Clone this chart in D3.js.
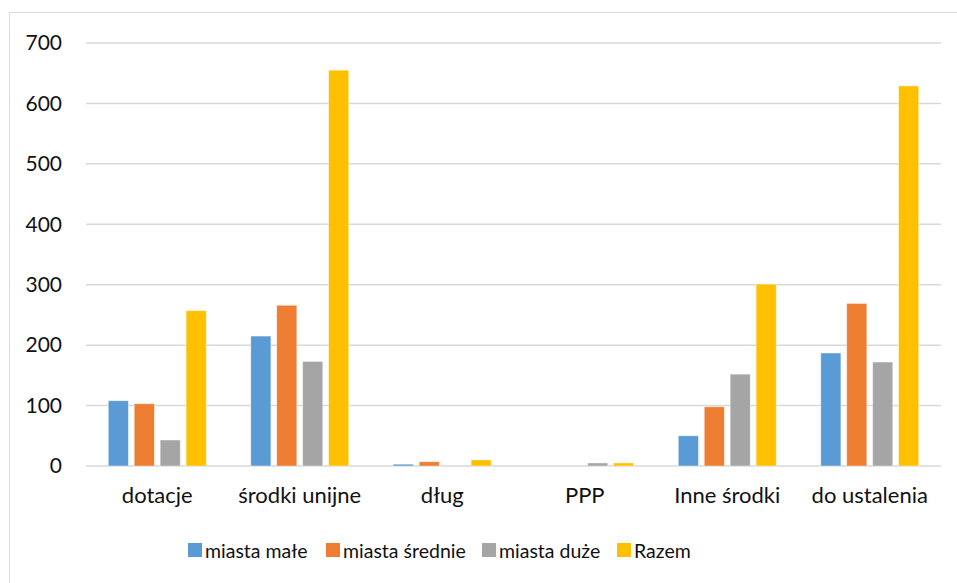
<!DOCTYPE html>
<html>
<head>
<meta charset="utf-8">
<script src="https://cdn.jsdelivr.net/npm/d3@7"></script>
<style>
  body { margin: 0; background: #fff; }
  svg { display: block; }
  text { font-family: Lato, "Open Sans", sans-serif; fill: #111; }
</style>
</head>
<body>
<div id="chart"></div>
<script>
// data
const categories = ["dotacje", "środki unijne", "dług", "PPP", "Inne środki", "do ustalenia"];
const seriesNames = ["miasta małe", "miasta średnie", "miasta duże", "Razem"];
const miastaMale    = [108, 215, 3, 0, 50, 187];
const miastaSrednie = [103, 266, 7, 0, 98, 269];
const miastaDuze    = [43, 173, 0, 5, 152, 172];
const razem         = [257, 655, 10, 5, 301, 629];
const yTicks = [0, 100, 200, 300, 400, 500, 600, 700];
const colors = ["#5B9BD5", "#ED7D31", "#A5A5A5", "#FFC000"];

const seriesValues = [miastaMale, miastaSrednie, miastaDuze, razem];
const width = 957, height = 583;

const svg = d3.select("#chart").append("svg")
    .attr("width", width)
    .attr("height", height);

// chart frame
svg.append("rect")
    .attr("x", 9.5).attr("y", 12.5)
    .attr("width", 965).attr("height", 585)
    .attr("fill", "#fff")
    .attr("stroke", "#d9d9d9");

const x0 = d3.scaleBand()
    .domain(categories)
    .range([86, 941])
    .paddingInner(0.272)
    .paddingOuter(0.136);

const x1 = d3.scaleBand()
    .domain(seriesNames)
    .range([0, x0.bandwidth()])
    .paddingInner(0.225)
    .paddingOuter(0.1125);

const y = d3.scaleLinear()
    .domain([0, 700])
    .range([466, 43]);

// gridlines
svg.append("g")
    .selectAll("line")
    .data(yTicks)
    .join("line")
    .attr("x1", 86).attr("x2", 941)
    .attr("y1", d => y(d)).attr("y2", d => y(d))
    .attr("stroke", "#d9d9d9")
    .attr("stroke-width", 1.5);

// y axis labels
const yAxis = svg.append("g")
    .attr("transform", "translate(86,0)")
    .call(d3.axisLeft(y).tickValues(yTicks).tickSize(0).tickPadding(24));
yAxis.select(".domain").remove();
yAxis.selectAll("text")
    .style("font-family", "Lato, 'Open Sans', sans-serif")
    .attr("font-size", 21)
    .attr("fill", "#111");

// bars
const rows = categories.map((c, i) => ({cat: c, vals: seriesNames.map((s, j) => ({s, v: seriesValues[j][i], j}))}));

svg.append("g")
    .selectAll("g")
    .data(rows)
    .join("g")
    .attr("transform", d => `translate(${x0(d.cat)},0)`)
    .selectAll("rect")
    .data(d => d.vals)
    .join("rect")
    .attr("x", d => x1(d.s))
    .attr("width", x1.bandwidth())
    .attr("y", d => y(d.v))
    .attr("height", d => y(0) - y(d.v))
    .attr("fill", d => colors[d.j])
    .attr("stroke", "#fff")
    .attr("stroke-opacity", 0.5)
    .attr("stroke-width", 0.8);

// x axis labels
const xAxis = svg.append("g")
    .attr("transform", "translate(0,466)")
    .call(d3.axisBottom(x0).tickSize(0).tickPadding(21));
xAxis.select(".domain").remove();
xAxis.selectAll("text")
    .style("font-family", "Lato, 'Open Sans', sans-serif")
    .attr("font-size", 22)
    .attr("fill", "#111");

// legend
const legendX = [188, 326, 482, 617];
const legend = svg.append("g")
    .selectAll("g")
    .data(seriesNames)
    .join("g")
    .attr("transform", (d, i) => `translate(${legendX[i]},543)`);
legend.append("rect")
    .attr("width", 14).attr("height", 14)
    .attr("fill", (d, i) => colors[i]);
legend.append("text")
    .attr("x", 17).attr("y", 14.5)
    .attr("font-size", 19.5)
    .text(d => d);
</script>
</body>
</html>
